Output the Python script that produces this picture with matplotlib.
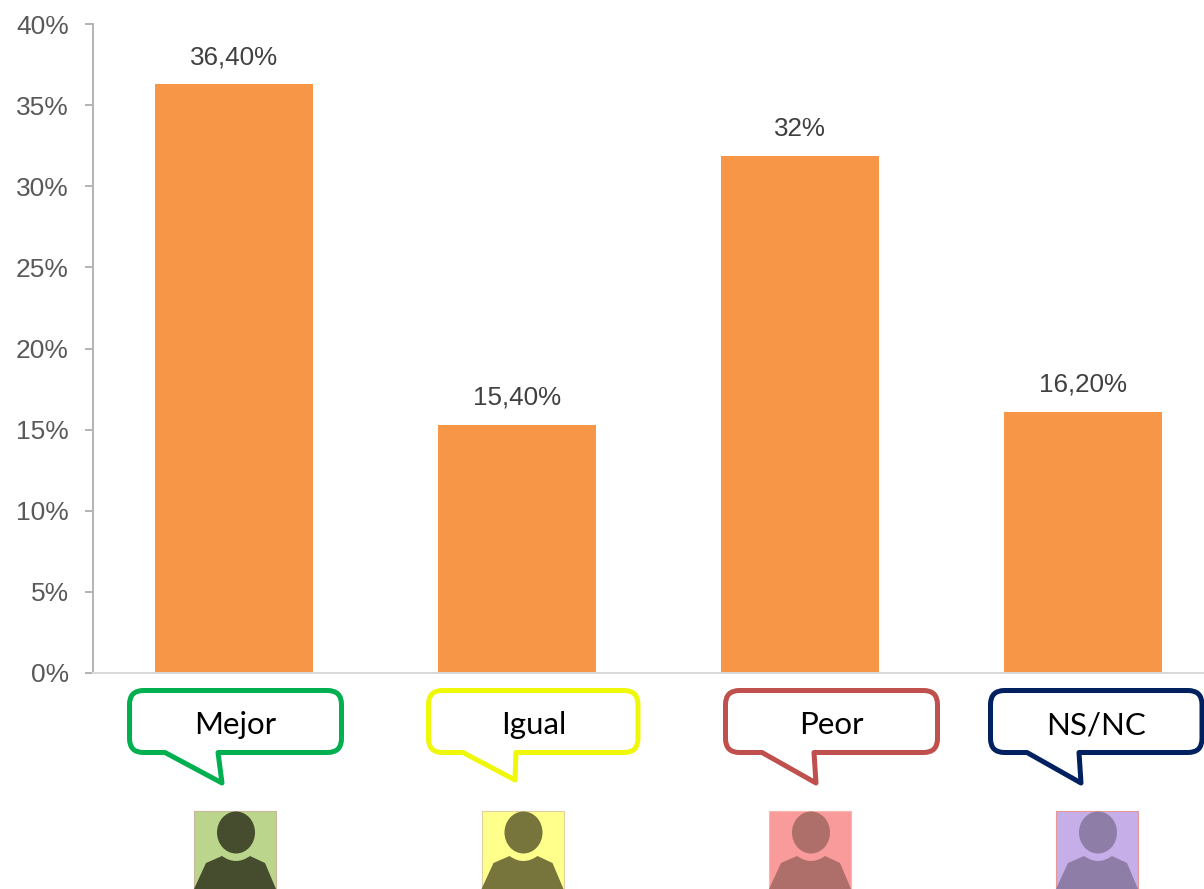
import matplotlib
matplotlib.use('Agg')
from matplotlib import pyplot as plt
from matplotlib.patches import Ellipse, PathPatch, Rectangle
from matplotlib.path import Path
import numpy as np

categories = ['Mejor', 'Igual', 'Peor', 'NS/NC']
values = [36.3, 15.3, 31.85, 16.1]
value_labels = ['36,40%', '15,40%', '32%', '16,20%']
y_ticks = [0, 5, 10, 15, 20, 25, 30, 35, 40]

bubble_colors = ['#00B050', '#F0F80A', '#C0504D', '#002060']
person_bg = ['#BBD68C', '#FFFF8C', '#F99B9B', '#C6AEE8']
person_fg = ['#464D2E', '#78753C', '#AE6E6A', '#8E7DA6']
person_edge = ['#C9B79A', '#E0CFA0', '#F5B5B0', '#E59A9A']

W, H = 1204, 889
fig = plt.figure(figsize=(W/100, H/100), dpi=100)

# chart axes, pixel box
left, right, top, bottom = 92.5, 1204, 24, 673
ax = fig.add_axes([left/W, 1 - bottom/H, (right - left)/W, (bottom - top)/H])
xs = np.arange(len(categories))
ax.bar(xs, values, width=158/283, color='#F79646', linewidth=0)
ax.set_xlim(-0.5, (right - 234)/283)
ax.set_ylim(0, 40)

for x, v, lab in zip(xs, values, value_labels):
    ax.annotate(lab, (x, v), xytext=(0, 19.3), textcoords='offset points', ha='center', va='center',
                family='Liberation Sans', fontsize=18.7, color='#404040')

ax.set_yticks(y_ticks)
ax.set_yticklabels([f'{t}%' for t in y_ticks], family='Liberation Sans', fontsize=19, color='#595959')
ax.set_xticks([])
ax.tick_params(axis='y', length=6.1, width=1.4, color='#B3B3B3', pad=11)
ax.spines['top'].set_visible(False)
ax.spines['right'].set_visible(False)
ax.spines['left'].set_color('#B3B3B3')
ax.spines['left'].set_linewidth(1.4)
ax.spines['bottom'].set_color('#D9D9D9')
ax.spines['bottom'].set_linewidth(1.4)

# overlay in pixel coordinates for the callouts and the person icons
over = fig.add_axes([0, 0, 1, 1])
over.set_xlim(0, W)
over.set_ylim(H, 0)
over.axis('off')

# x0, x1, tail start, tail tip x, tail tip y, tail back
bubbles = [
    (129.5, 341.5, 165, 222, 783, 218),
    (428.5, 638, 463, 515, 780, 516),
    (725.5, 937.5, 762, 816, 783, 814),
    (990.5, 1202, 1027, 1081, 783, 1079),
]
bubble_top, bubble_bot, rad = 690.5, 752.5, 14


def bubble_path(x0, x1, t0, tip_x, tip_y, t1):
    verts = [(x0 + rad, bubble_top), (x1 - rad, bubble_top),
             (x1, bubble_top), (x1, bubble_top + rad), (x1, bubble_bot - rad),
             (x1, bubble_bot), (x1 - rad, bubble_bot), (t1, bubble_bot),
             (tip_x, tip_y), (t0, bubble_bot), (x0 + rad, bubble_bot),
             (x0, bubble_bot), (x0, bubble_bot - rad), (x0, bubble_top + rad),
             (x0, bubble_top), (x0 + rad, bubble_top), (x0 + rad, bubble_top)]
    codes = [Path.MOVETO, Path.LINETO,
             Path.CURVE3, Path.CURVE3, Path.LINETO,
             Path.CURVE3, Path.CURVE3, Path.LINETO,
             Path.LINETO, Path.LINETO, Path.LINETO,
             Path.CURVE3, Path.CURVE3, Path.LINETO,
             Path.CURVE3, Path.CURVE3, Path.CLOSEPOLY]
    return Path(verts, codes)


for name, color, b in zip(categories, bubble_colors, bubbles):
    over.add_patch(PathPatch(bubble_path(*b), facecolor='white', edgecolor=color, linewidth=3.6,
                             joinstyle='round'))
    over.text((b[0] + b[1])/2, 725, name, ha='center', va='center', family='Lato', fontsize=22.5,
              color='black')

person_x = [194, 481.5, 769, 1056]
size = 82
person_top = 811


def draw_person(x0, bg, fg, edge):
    over.add_patch(Rectangle((x0, person_top), size, H - person_top + 2, facecolor=bg, edgecolor=edge,
                             linewidth=0.8))
    cx = x0 + size/2 + 1
    over.add_patch(Ellipse((cx, 832.5), 38, 42, facecolor=fg, edgecolor='none'))
    verts = [(x0, H), (x0 + 12, 863), (cx - 14, 856), (cx, 866), (cx + 14, 856), (x0 + 71, 863),
             (x0 + size, H), (x0, H)]
    codes = [Path.MOVETO, Path.LINETO, Path.LINETO, Path.CURVE3, Path.CURVE3, Path.LINETO,
             Path.LINETO, Path.CLOSEPOLY]
    over.add_patch(PathPatch(Path(verts, codes), facecolor=fg, edgecolor='none'))


for x0, bg, fg, edge in zip(person_x, person_bg, person_fg, person_edge):
    draw_person(x0, bg, fg, edge)

fig.savefig('out.png', dpi=100)
